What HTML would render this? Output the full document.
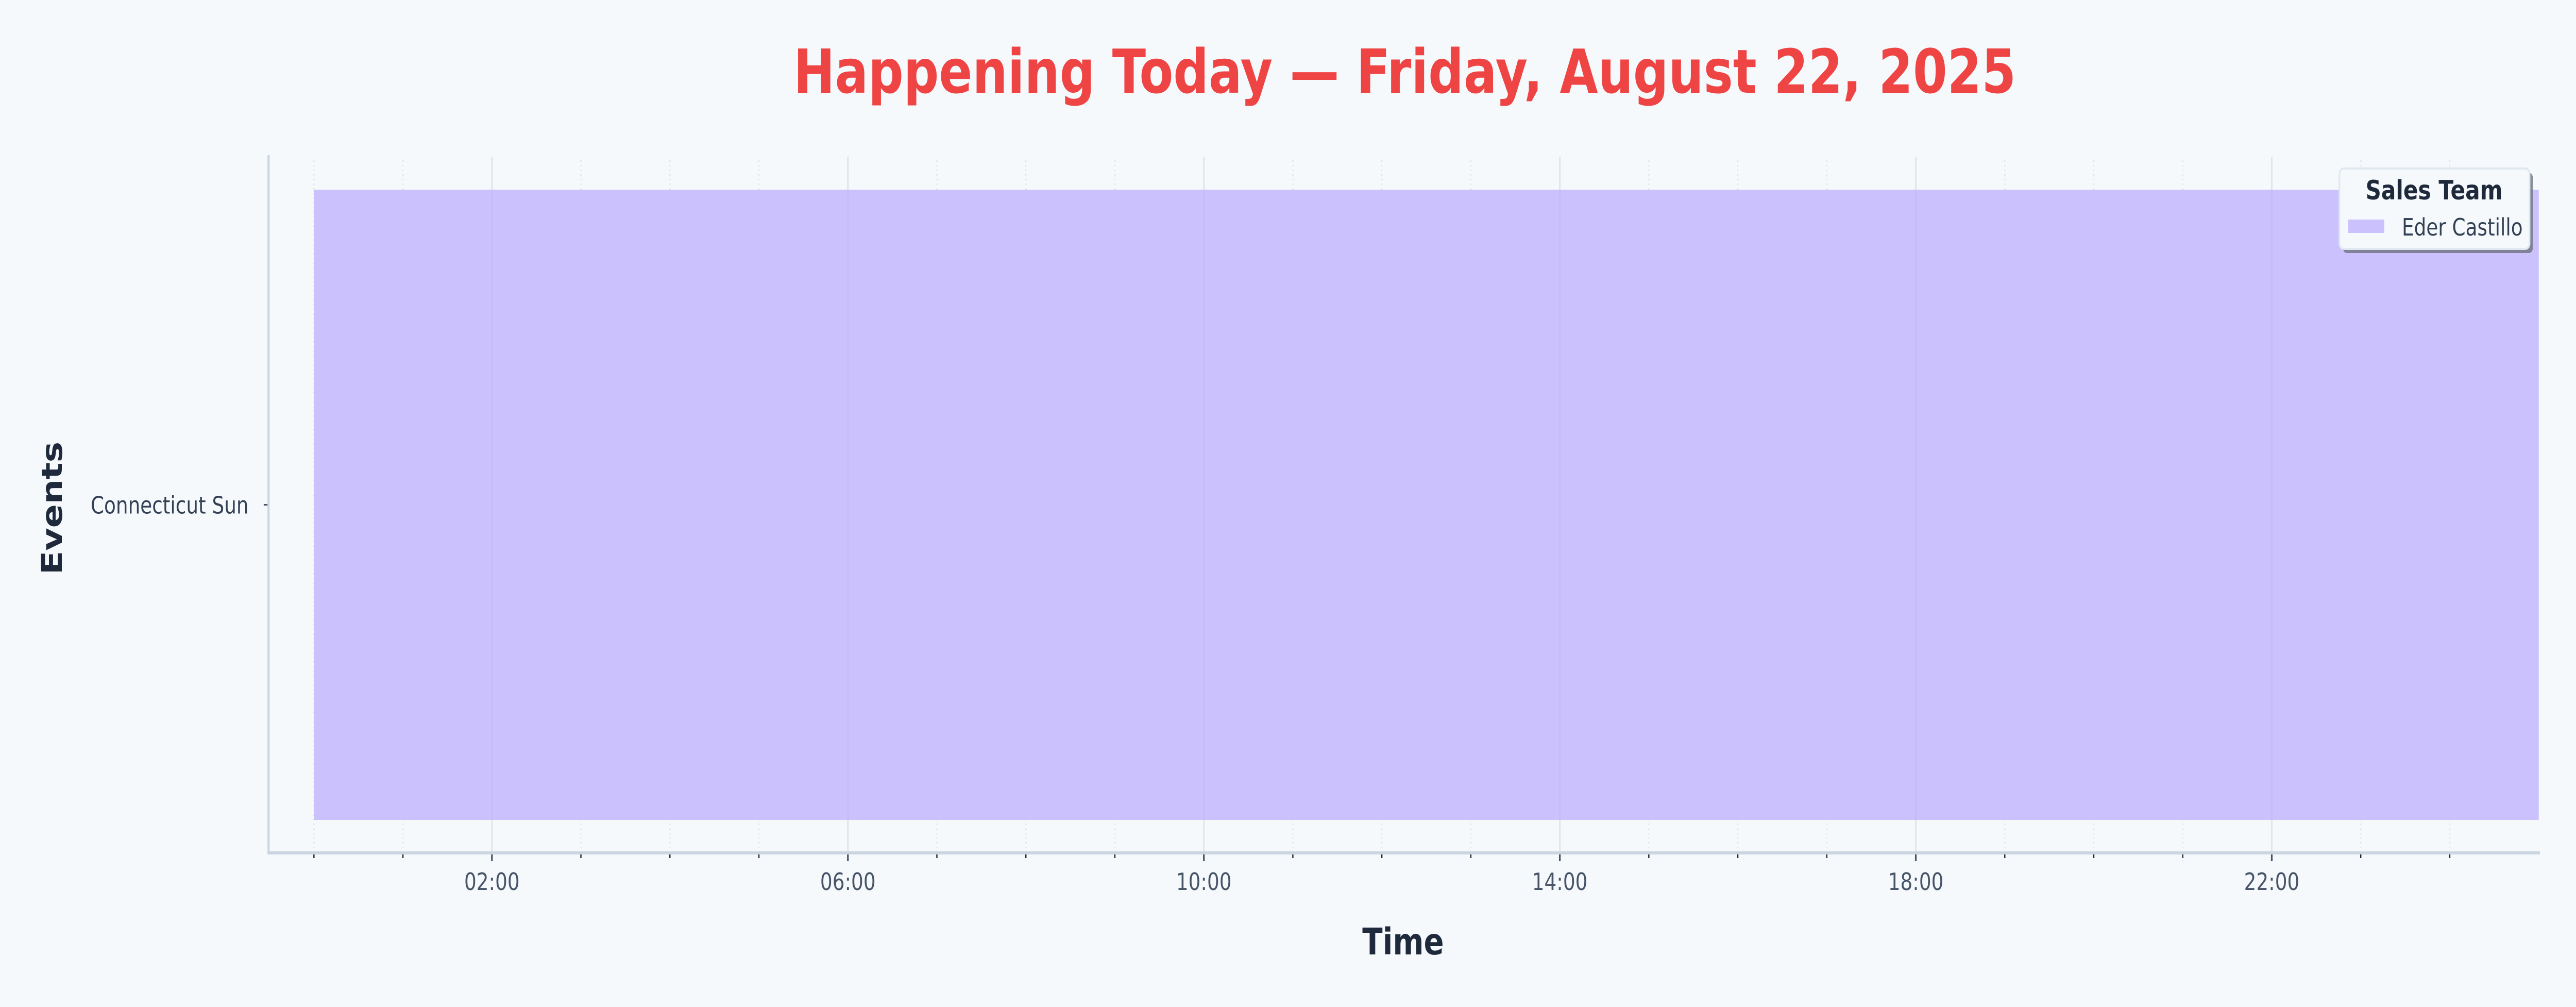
<!DOCTYPE html>
<html><head><meta charset="utf-8"><style>
html,body{margin:0;padding:0;background:#f6f9fc;overflow:hidden;width:100%;height:100%;}
svg{display:block;width:100vw;height:100vh;font-family:"DejaVu Sans","Liberation Sans",sans-serif;}
</style></head><body>
<svg id="chart" viewBox="0 0 6154 1954" preserveAspectRatio="none" xmlns="http://www.w3.org/2000/svg">
<rect x="0" y="0" width="6154" height="1954" fill="#f6f9fc"/>
<text x="3356" y="180" text-anchor="middle" font-size="118" font-weight="bold" fill="#ef4444">Happening Today — Friday, August 22, 2025</text>
<g id="grid"></g>
<g id="bars"></g>
<g id="gridTop"></g>
<rect x="639" y="301" width="5" height="1357" fill="#cbd5e1"/>
<rect x="639" y="1652" width="5429" height="6" fill="#cbd5e1"/>
<g id="xticks"></g>
<g id="yticks"></g>
<text x="3352" y="1852" text-anchor="middle" font-size="71" font-weight="bold" fill="#1e293b">Time</text>
<text transform="translate(148,986) rotate(-90)" text-anchor="middle" font-size="68" font-weight="bold" fill="#1e293b">Events</text>
<g>
<rect x="5597" y="335" width="454" height="156" rx="10" fill="#6b7280" opacity="0.8"/>
<rect x="5589" y="327" width="454" height="156" rx="10" fill="#f6f9fc" stroke="#e2e8f0" stroke-width="4"/>
<text x="5815" y="387" text-anchor="middle" font-size="52" font-weight="bold" fill="#1e293b">Sales Team</text>
<rect x="5610" y="426" width="86" height="26" fill="#cbc1fc"/>
<text x="5738" y="457" font-size="46" fill="#334155">Eder Castillo</text>
</g>
</svg>
<script>
const categories = ["Connecticut Sun"];
const startHours = [0];
const endHours = [25];
const owners = ["Eder Castillo"];
const majorTickHours = [2, 6, 10, 14, 18, 22];
const majorTickLabels = ["02:00", "06:00", "10:00", "14:00", "18:00", "22:00"];
const minorTickHours = [0,1,3,4,5,7,8,9,11,12,13,15,16,17,19,20,21,23,24];

const NS = "http://www.w3.org/2000/svg";
const X0 = 750, PX_PER_HOUR = 212.6;
const xScale = h => X0 + h * PX_PER_HOUR;
const PLOT_TOP = 301, PLOT_BOTTOM = 1655;
const BAND_TOP = 368, BAND_BOTTOM = 1591;
const yBand = i => {
  const bh = (BAND_BOTTOM - BAND_TOP) / categories.length;
  return {y: BAND_TOP + i * bh, h: bh, c: BAND_TOP + (i + 0.5) * bh};
};
function mk(tag, attrs, parent) {
  const el = document.createElementNS(NS, tag);
  for (const k in attrs) el.setAttribute(k, attrs[k]);
  parent.appendChild(el);
  return el;
}
const grid = document.getElementById('grid');
const gridTop = document.getElementById('gridTop');
const bars = document.getElementById('bars');
const xt = document.getElementById('xticks');
const yt = document.getElementById('yticks');

minorTickHours.forEach(h => {
  const x = xScale(h);
  const g = mk('line', {x1:x, x2:x, y1:PLOT_TOP+10, y2:PLOT_BOTTOM, stroke:'#e2e5ea', 'stroke-width':3, 'stroke-dasharray':'3 6'}, grid);
  
  
  const t = mk('line', {x1:x, x2:x, y1:1658, y2:1665, stroke:'#1f2937', 'stroke-width':3}, xt);
  
  
});
majorTickHours.forEach((h, i) => {
  const x = xScale(h);
  const g = mk('line', {x1:x, x2:x, y1:PLOT_TOP+3, y2:PLOT_BOTTOM, stroke:'#e2e5ea', 'stroke-width':4}, grid);
  
  
  const t = mk('line', {x1:x, x2:x, y1:1658, y2:1671, stroke:'#475569', 'stroke-width':4}, xt);
  
  
  const lb = mk('text', {x:x, y:1727, 'text-anchor':'middle', 'font-size':46, fill:'#475569'}, xt);
  lb.textContent = majorTickLabels[i];
  
  
});
categories.forEach((c, i) => {
  const b = yBand(i);
  const r = mk('rect', {x:xScale(startHours[i]), y:b.y, width:xScale(endHours[i]) - xScale(startHours[i]), height:b.h, fill:'#cbc1fc'}, bars);
  
  
  const tk = mk('line', {x1:630, x2:639, y1:b.c, y2:b.c, stroke:'#475569', 'stroke-width':3}, yt);
  
  
  const lb = mk('text', {x:594, y:b.c + 17, 'text-anchor':'end', 'font-size':46, fill:'#334155'}, yt);
  lb.textContent = c;
  
  
});
majorTickHours.forEach(h => {
  const x = xScale(h);
  const g = mk('line', {x1:x, x2:x, y1:BAND_TOP, y2:BAND_BOTTOM, stroke:'#c4bbf0', 'stroke-width':4, opacity:0.5}, gridTop);
  
  
});
</script>
</body></html>
